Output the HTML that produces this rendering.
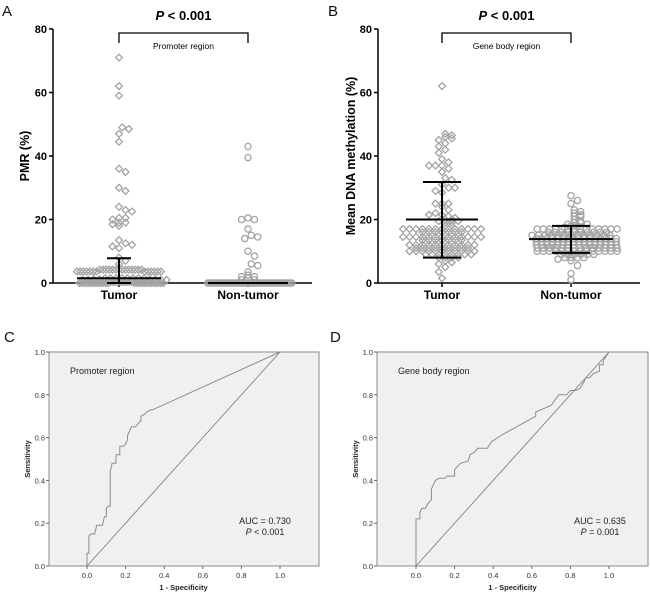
<!DOCTYPE html>
<html><head><meta charset="utf-8">
<style>
html,body{margin:0;padding:0;background:#fff;}
svg{display:block;font-family:"Liberation Sans",Arial,sans-serif;}
</style></head>
<body>
<svg id="fig" width="650" height="596" viewBox="0 0 650 596" xmlns="http://www.w3.org/2000/svg"></svg>
<script>
// ---------- Data ----------
const categories = ["Tumor", "Non-tumor"];
const yTicksAB = [0, 20, 40, 60, 80];
const rocTicks = [0.0, 0.2, 0.4, 0.6, 0.8, 1.0];
const rocTickLabels = ["0.0", "0.2", "0.4", "0.6", "0.8", "1.0"];

const pmrTumor = [71,62,59,49,48.5,47,44.5,36,35,30,29,24,23,22.5,20.5,20.5,20,19,19,18.5,18,13.5,12.5,12,11.5,11,8,7,6,
  4.2,4.2,4.2,4.2,4.2,4.2,4.2,4.2,4.2,4.2,4.2,4.2,4.2,4.2,3.6,3.6,3.6,3.6,3.6,3.6,3.6,3.6,3.6,3.6,3.6,3.6,3.6,
  1.5,1.5,1.5,1.5,1.5,1.5,1.5,1.5,1.2,1.2,1.2,1.2,1,1,1,1,
  0.3,0.3,0.3,0.3,0.3,0.3,0.3,0.3,0.3,0.3,0,0,0,0,0,0,0,0,0,0,0,0,0,0,0,0,0,0,0,0,0,0,0,0,0,0];
const pmrNon = [43,39.5,20.5,20,20,17,15,14.5,14,10,8.5,6,5.5,3.5,2.5,2,2,1.5,1,1,
  0,0,0,0,0,0,0,0,0,0,0,0,0,0,0,0,0,0,0,0,0,0,0,0,0,0,0,0,0,0,0,0,0,0,0,0,0,0,0,0,0,0,0,0,0,0,0,0,0,0];
const pmrTumorStats = {median: 1.5, low: 0, high: 7.8};
const pmrNonStats = {median: 0, low: 0, high: 0};

const gbTumor = [62,47,46.5,46,45.5,45,44,43,42,41,39,38,37,37,37,36,35,33,32.5,31,30,30,29,28.5,25,25,25,24,23,22,21.5,21.5,21,20.5,20,20,19.5,19.5,19,19,18,18,
  17,17,17,17,17,17,17,17,17,17,17,17,17,16,16,16,16,16,16,16,
  14.5,14.5,14.5,14.5,14.5,14.5,14.5,14.5,14.5,14.5,14.5,14.5,14.5,13.5,13.5,13.5,13.5,13.5,13.5,13.5,
  12,12,12,12,12,12,12,12,12,12,12,11,11,11,11,11,11,11,11,11,10,10,10,10,10,10,10,10,10,10,10,
  9,9,9,9,9,9,9,9,8,8,8,8,7,6.5,6,5,3.5,1.5];
const gbNon = [27.5,26,25,23,22.5,22,21.5,21,21,20,19.5,19,19,18.5,18.5,18,18,17.5,
  17,17,17,17,17,17,17,17,17,17,17,17,17,17,16,16,16,16,16,16,16,16,16,16,
  15,15,15,15,15,15,15,15,15,15,15,15,15,14,14,14,14,14,14,14,14,14,14,14,14,14,14,14,14,
  13,13,13,13,13,13,13,13,13,13,13,13,13,13,13,13,12,12,12,12,12,12,12,12,12,12,12,12,12,12,12,12,
  11,11,11,11,11,11,11,11,11,11,11,11,11,11,10,10,10,10,10,10,10,10,10,10,10,10,10,10,
  9,9,9,9,9,9,8,8,8,8,7.5,7,5.5,3,1];
const gbTumorStats = {median: 20, low: 8, high: 31.8};
const gbNonStats = {median: 13.8, low: 9.5, high: 18};

const rocC_fpr = [0,0,0.01,0.01,0.02,0.04,0.05,0.08,0.09,0.1,0.1,0.11,0.12,0.12,0.13,0.15,0.15,0.17,0.17,0.19,0.2,0.21,0.21,0.22,0.23,0.25,0.26,0.27,0.28,0.28,0.3,0.31,0.33,0.34,1];
const rocC_tpr = [0,0.06,0.06,0.14,0.15,0.15,0.19,0.19,0.23,0.23,0.27,0.28,0.28,0.44,0.48,0.48,0.52,0.52,0.56,0.56,0.57,0.59,0.61,0.63,0.65,0.65,0.66,0.67,0.68,0.70,0.71,0.72,0.73,0.73,1];
const rocD_fpr = [0,0,0.02,0.02,0.03,0.05,0.06,0.07,0.08,0.08,0.09,0.1,0.12,0.15,0.16,0.2,0.2,0.23,0.27,0.28,0.3,0.32,0.37,0.39,0.44,0.52,0.62,0.62,0.7,0.74,0.78,0.8,0.83,0.85,0.87,0.88,0.9,0.92,0.95,0.95,0.97,0.97,1];
const rocD_tpr = [0,0.22,0.22,0.25,0.27,0.27,0.29,0.30,0.31,0.36,0.38,0.40,0.41,0.41,0.42,0.42,0.45,0.48,0.49,0.52,0.53,0.55,0.55,0.58,0.61,0.65,0.70,0.72,0.75,0.80,0.80,0.82,0.82,0.83,0.86,0.88,0.88,0.90,0.91,0.94,0.94,0.96,1];

// ---------- Helpers ----------
const NS = "http://www.w3.org/2000/svg";
const svg = document.getElementById("fig");
function mk(tag, attrs, parent) {
  const e = document.createElementNS(NS, tag);
  for (const k in attrs) e.setAttribute(k, attrs[k]);
  (parent || svg).appendChild(e);
  return e;
}
function txt(s, attrs, parent) { const t = mk("text", attrs, parent); t.textContent = s; return t; }

// ---------- Scatter panels ----------
function scatterPanel(opt) {
  const g = mk("g", {});
  
  
  const y = v => opt.y0 - (v / 80) * (opt.y0 - opt.y80);
  const L = txt(opt.letter, {x: opt.letterX, y: 16, "font-size": 15, fill: "#111"}, g);
  
  
  const ax = mk("path", {d: `M${opt.ax},${opt.y80} V${opt.y0} H${opt.axEnd}`, stroke: "#000", "stroke-width": 1.5, fill: "none"}, g);
  
  
  yTicksAB.forEach(t => {
    mk("line", {x1: opt.ax - 4, x2: opt.ax, y1: y(t), y2: y(t), stroke: "#000", "stroke-width": 1.5}, g);
    const tl = txt(String(t), {x: opt.ax - 6, y: y(t) + 4, "font-size": 11, "font-weight": "bold", "text-anchor": "end"}, g);
    
    
  });
  categories.forEach((c, i) => {
    mk("line", {x1: opt.cx[i], x2: opt.cx[i], y1: opt.y0, y2: opt.y0 + 4, stroke: "#000", "stroke-width": 1.5}, g);
    const cl = txt(c, {x: opt.cx[i], y: opt.y0 + 16, "font-size": 12, "font-weight": "bold", "text-anchor": "middle"}, g);
    
    
  });
  const yt = txt(opt.ytitle, {x: 0, y: 0, "font-size": 12.5, "font-weight": "bold", "text-anchor": "middle",
    transform: `translate(${opt.ytx},${(opt.y0 + opt.y80) / 2}) rotate(-90)`}, g);
  
  
  const br = mk("path", {d: `M${opt.cx[0]},43 V33 H${opt.cx[1]} V43`, stroke: "#000", "stroke-width": 1.3, fill: "none"}, g);
  
  
  const rl = txt(opt.region, {x: (opt.cx[0] + opt.cx[1]) / 2, y: 49, "font-size": 8.5, "text-anchor": "middle"}, g);
  
  
  const pt = mk("text", {x: (opt.cx[0] + opt.cx[1]) / 2, y: 20, "font-size": 13, "font-weight": "bold", "text-anchor": "middle"}, g);
  pt.innerHTML = '<tspan font-style="italic">P</tspan> &lt; 0.001';
  
  
  [opt.s1, opt.s2].forEach((vals, si) => {
    const sorted = vals.slice().sort((a, b) => b - a);
    const cx = opt.cx[si];
    const rows = [];
    sorted.forEach(v => {
      const last = rows[rows.length - 1];
      if (last && Math.abs(y(last[0]) - y(v)) < 3) last.push(v); else rows.push([v]);
    });
    const placed = [];
    rows.forEach(row => {
      const n = row.length;
      let sp = 6.5;
      if ((n - 1) * sp / 2 > opt.maxHalf) sp = (2 * opt.maxHalf) / (n - 1);
      const base = row.map((v, k) => {
        const idx = k === 0 ? 0 : Math.ceil(k / 2) * (k % 2 ? 1 : -1);
        return [idx * sp + (n % 2 ? 0 : sp / 2), y(v)];
      });
      let shift = 0;
      if (n <= 4) {
        for (let j = 0; j <= 6; j++) {
          const s = Math.ceil(j / 2) * 3.25 * (j % 2 ? 1 : -1);
          const ok = base.every(b => placed.every(p => (p[0] - cx - b[0] - s) ** 2 + (p[1] - b[1]) ** 2 >= 36));
          if (ok) { shift = s; break; }
        }
      }
      base.forEach(b => {
        const px = cx + b[0] + shift, py = b[1];
        placed.push([px, py]);
        let m;
        if (si === 0) m = mk("path", {d: `M${px},${py - 3.4} L${px + 3.4},${py} L${px},${py + 3.4} L${px - 3.4},${py} Z`, fill: "none", stroke: "#a3a3a3", "stroke-width": 1.3}, g);
        else m = mk("circle", {cx: px, cy: py, r: 3.1, fill: "none", stroke: "#a3a3a3", "stroke-width": 1.3}, g);
        
        
      });
    });
  });
  [opt.st1, opt.st2].forEach((st, i) => {
    const cx = opt.cx[i];
    const eb = mk("g", {stroke: "#000", "stroke-width": 2, fill: "none"}, g);
    
    
    mk("line", {x1: cx - opt.mw[i], x2: cx + opt.mw[i], y1: y(st.median), y2: y(st.median)}, eb);
    if (st.high > st.low) {
      mk("line", {x1: cx, x2: cx, y1: y(st.low), y2: y(st.high)}, eb);
      mk("line", {x1: cx - opt.cw, x2: cx + opt.cw, y1: y(st.low), y2: y(st.low)}, eb);
      mk("line", {x1: cx - opt.cw, x2: cx + opt.cw, y1: y(st.high), y2: y(st.high)}, eb);
    }
  });
}

scatterPanel({name: "panel-a-pmr", letter: "A", letterX: 2, ax: 53, axEnd: 312, y0: 283, y80: 29, cx: [119, 248],
  ytitle: "PMR (%)", ytx: 29, region: "Promoter region", s1: pmrTumor, s2: pmrNon,
  st1: pmrTumorStats, st2: pmrNonStats, maxHalf: 42, mw: [42, 40], cw: 12});
scatterPanel({name: "panel-b-gene-body", letter: "B", letterX: 328, ax: 378, axEnd: 640, y0: 283, y80: 29, cx: [442, 571],
  ytitle: "Mean DNA methylation (%)", ytx: 355, region: "Gene body region", s1: gbTumor, s2: gbNon,
  st1: gbTumorStats, st2: gbNonStats, maxHalf: 40, mw: [36, 42], cw: 19});

// ---------- ROC panels ----------
function rocPanel(opt) {
  const g = mk("g", {});
  
  
  const X = v => opt.x0 + v * (opt.x1 - opt.x0);
  const Y = v => opt.bottom - v * (opt.bottom - opt.top);
  const L = txt(opt.letter, {x: opt.letterX, y: 342, "font-size": 15, fill: "#111"}, g);
  
  
  const bg = mk("rect", {x: opt.left, y: opt.top, width: opt.right - opt.left, height: opt.bottom - opt.top, fill: "#f0f0f0", stroke: "#8a8a8a", "stroke-width": 1}, g);
  
  
  rocTicks.forEach((t, i) => {
    mk("line", {x1: opt.left - 3, x2: opt.left, y1: Y(t), y2: Y(t), stroke: "#666"}, g);
    const yl = txt(rocTickLabels[i], {x: opt.left - 4, y: Y(t) + 3, "font-size": 7.5, "text-anchor": "end", fill: "#333"}, g);
    
    
    mk("line", {x1: X(t), x2: X(t), y1: opt.bottom, y2: opt.bottom + 3, stroke: "#666"}, g);
    const xl = txt(rocTickLabels[i], {x: X(t), y: opt.bottom + 12, "font-size": 7.5, "text-anchor": "middle", fill: "#333"}, g);
    
    
  });
  const xt = txt("1 - Specificity", {x: X(0.5), y: opt.bottom + 24, "font-size": 7.5, "font-weight": "bold", "text-anchor": "middle", fill: "#222"}, g);
  
  
  const yt = txt("Sensitivity", {x: 0, y: 0, "font-size": 7.5, "font-weight": "bold", "text-anchor": "middle", fill: "#222",
    transform: `translate(${opt.left - 19},${(opt.top + opt.bottom) / 2}) rotate(-90)`}, g);
  
  
  const diag = mk("line", {x1: X(0), y1: Y(0), x2: X(1), y2: Y(1), stroke: "#777", "stroke-width": 0.8}, g);
  
  
  const d = opt.fpr.map((f, i) => (i ? "L" : "M") + X(f).toFixed(1) + "," + Y(opt.tpr[i]).toFixed(1)).join(" ");
  const curve = mk("path", {d: d, fill: "none", stroke: "#8c8c8c", "stroke-width": 1}, g);
  
  
  const rl = txt(opt.region, {x: opt.left + 21, y: opt.top + 22, "font-size": 9, fill: "#222"}, g);
  
  
  const a = txt(opt.auc, {x: opt.aucX, y: Y(0.21) + 3, "font-size": 9, "text-anchor": "middle", fill: "#222"}, g);
  
  
  const p = mk("text", {x: opt.aucX, y: Y(0.21) + 14, "font-size": 9, "text-anchor": "middle", fill: "#222"}, g);
  p.innerHTML = '<tspan font-style="italic">P</tspan> ' + opt.p;
  
  
}
rocPanel({name: "panel-c-roc-promoter", letter: "C", letterX: 4, left: 49, right: 319, top: 352, bottom: 566, x0: 87, x1: 280,
  fpr: rocC_fpr, tpr: rocC_tpr, region: "Promoter region", auc: "AUC = 0.730", p: "&lt; 0.001", aucX: 265});
rocPanel({name: "panel-d-roc-gene-body", letter: "D", letterX: 330, left: 377, right: 648, top: 352, bottom: 566, x0: 416, x1: 609,
  fpr: rocD_fpr, tpr: rocD_tpr, region: "Gene body region", auc: "AUC = 0.635", p: "= 0.001", aucX: 600});
</script>
</body></html>
